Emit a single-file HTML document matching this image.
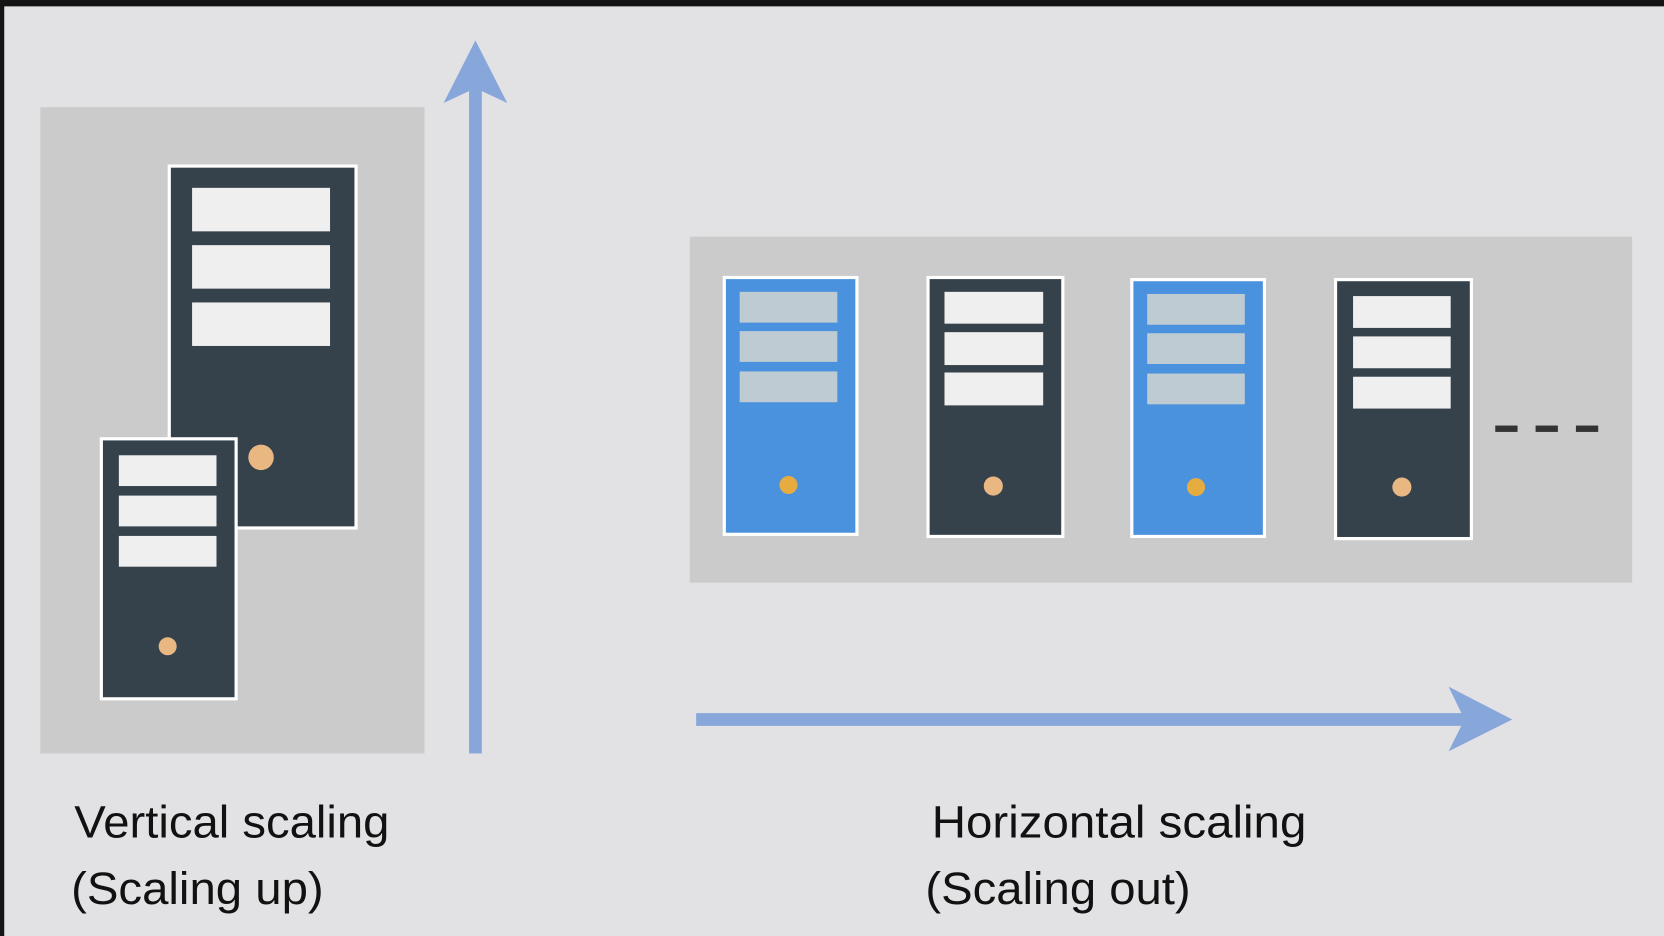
<!DOCTYPE html>
<html><head><style>html,body{margin:0;padding:0;background:#111;}svg{display:block}</style></head>
<body>
<svg width="1664" height="936" viewBox="0 0 1568 882" preserveAspectRatio="none" xmlns="http://www.w3.org/2000/svg">
<rect x="0" y="0" width="1568" height="882" fill="#141414"/>
<rect x="4" y="6" width="1564" height="876" fill="#e2e2e4"/>
<rect x="38" y="101" width="362" height="609" fill="#cbcbcb"/>
<rect x="650" y="223" width="888" height="326" fill="#cbcbcb"/>
<rect x="159.5" y="156.5" width="176" height="341" fill="#35414b" stroke="#fff" stroke-width="3"/>
<rect x="181" y="177" width="130" height="41" fill="#efefef"/>
<rect x="181" y="231" width="130" height="41" fill="#efefef"/>
<rect x="181" y="285" width="130" height="41" fill="#efefef"/>
<circle cx="246" cy="431" r="12" fill="#e9b882"/>
<rect x="95.5" y="413.5" width="127" height="245" fill="#35414b" stroke="#fff" stroke-width="3"/>
<rect x="112" y="429" width="92" height="29" fill="#efefef"/>
<rect x="112" y="467" width="92" height="29" fill="#efefef"/>
<rect x="112" y="505" width="92" height="29" fill="#efefef"/>
<circle cx="158" cy="609" r="8.5" fill="#e9b882"/>
<rect x="442" y="80" width="12" height="630" fill="#87a6da"/>
<polygon points="448,38 418,97 448,83 478,97" fill="#87a6da"/>
<rect x="682.5" y="261.5" width="125" height="242" fill="#4a92de" stroke="#fff" stroke-width="3"/>
<rect x="697" y="275" width="92" height="29" fill="#bfcbd3"/>
<rect x="697" y="312" width="92" height="29" fill="#bfcbd3"/>
<rect x="697" y="350" width="92" height="29" fill="#bfcbd3"/>
<circle cx="743" cy="457" r="8.5" fill="#e6ac40"/>
<rect x="874.5" y="261.5" width="127" height="244" fill="#35414b" stroke="#fff" stroke-width="3"/>
<rect x="890" y="275" width="93" height="30" fill="#efefef"/>
<rect x="890" y="313" width="93" height="31" fill="#efefef"/>
<rect x="890" y="351" width="93" height="31" fill="#efefef"/>
<circle cx="936" cy="458" r="9" fill="#e9b882"/>
<rect x="1066.5" y="263.5" width="125" height="242" fill="#4a92de" stroke="#fff" stroke-width="3"/>
<rect x="1081" y="277" width="92" height="29" fill="#bfcbd3"/>
<rect x="1081" y="314" width="92" height="29" fill="#bfcbd3"/>
<rect x="1081" y="352" width="92" height="29" fill="#bfcbd3"/>
<circle cx="1127" cy="459" r="8.5" fill="#e6ac40"/>
<rect x="1258.5" y="263.5" width="128" height="244" fill="#35414b" stroke="#fff" stroke-width="3"/>
<rect x="1275" y="279" width="92" height="30" fill="#efefef"/>
<rect x="1275" y="317" width="92" height="30" fill="#efefef"/>
<rect x="1275" y="355" width="92" height="30" fill="#efefef"/>
<circle cx="1321" cy="459" r="9" fill="#e9b882"/>
<rect x="1409" y="401" width="21" height="6" fill="#333"/>
<rect x="1447" y="401" width="21" height="6" fill="#333"/>
<rect x="1485" y="401" width="21" height="6" fill="#333"/>
<rect x="656" y="672" width="730" height="12" fill="#87a6da"/>
<polygon points="1425,678 1365,647 1380,678 1365,708" fill="#87a6da"/>
<g font-family="Liberation Sans, sans-serif" font-size="43" fill="#111">
<text x="70" y="789" textLength="297" lengthAdjust="spacingAndGlyphs">Vertical scaling</text>
<text x="67" y="852" textLength="238" lengthAdjust="spacingAndGlyphs">(Scaling up)</text>
<text x="878" y="789" textLength="353" lengthAdjust="spacingAndGlyphs">Horizontal scaling</text>
<text x="872" y="852" textLength="250" lengthAdjust="spacingAndGlyphs">(Scaling out)</text>
</g>
</svg>
</body></html>
